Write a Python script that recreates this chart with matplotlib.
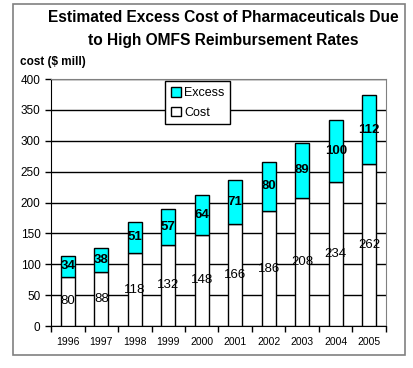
import matplotlib.pyplot as plt
from matplotlib.patches import Rectangle
import numpy as np

plt.rcParams['font.family'] = ['Liberation Sans', 'DejaVu Sans']

# data
years = ['1996', '1997', '1998', '1999', '2000', '2001', '2002', '2003', '2004', '2005']
cost = [80, 88, 118, 132, 148, 166, 186, 208, 234, 262]
excess = [34, 38, 51, 57, 64, 71, 80, 89, 100, 112]

fig = plt.figure(figsize=(4.13, 3.68), dpi=100)
ax = fig.add_axes([0.1235, 0.1141, 0.8111, 0.6712])

x = np.arange(len(years))
w = 0.42
b1 = ax.bar(x, cost, w, color='white', edgecolor='black', linewidth=1, label='Cost', zorder=3)
b2 = ax.bar(x, excess, w, bottom=cost, color='#00ffff', edgecolor='black', linewidth=1,
            label='Excess', zorder=3)

# value labels in the middle of each segment
for i in range(len(years)):
    ax.text(x[i], cost[i] / 2, str(cost[i]), ha='center', va='center', fontsize=9.5, zorder=5)
    ax.text(x[i], cost[i] + excess[i] / 2, str(excess[i]), ha='center', va='center',
            fontsize=9.5, fontweight='bold', zorder=5)

ax.set_xlim(-0.5, len(years) - 0.5)
ax.set_ylim(0, 400)
ax.set_yticks(range(0, 401, 50))
ax.tick_params(axis='y', labelsize=8.5, length=4, direction='out', width=1)
ax.yaxis.grid(True, color='black', linewidth=1, zorder=0)
ax.set_axisbelow(True)

# ticks between categories, labels at centres
ax.set_xticks(np.arange(-0.5, len(years), 1))
ax.set_xticklabels([])
ax.set_xticks(x, minor=True)
ax.set_xticklabels(years, minor=True, fontsize=7.5)
ax.tick_params(axis='x', which='major', length=4, width=1, direction='out')
ax.tick_params(axis='x', which='minor', length=0, pad=8)

for s in ['left', 'bottom']:
    ax.spines[s].set_color('black')
for s in ['top', 'right']:
    ax.spines[s].set_color('#808080')

ax.legend([b2, b1], ['Excess', 'Cost'], loc='upper left', bbox_to_anchor=(0.34, 0.99),
          frameon=True, fancybox=False, edgecolor='black', framealpha=1, fontsize=9,
          handlelength=0.8, handleheight=0.8, handletextpad=0.3, borderpad=0.45,
          labelspacing=0.6, borderaxespad=0)

fig.text(0.54, 0.921, 'Estimated Excess Cost of Pharmaceuticals Due\nto High OMFS Reimbursement Rates',
         ha='center', va='center', fontsize=11.2, fontweight='bold', linespacing=1.6)
fig.text(0.048, 0.832, 'cost ($ mill)', ha='left', va='center', fontsize=8.5, fontweight='bold')

fig.patches.append(Rectangle((0.0315, 0.0353), 0.949, 0.954, transform=fig.transFigure,
                             fill=False, edgecolor='#808080', linewidth=1.2))

plt.savefig('out.png', dpi=100)
